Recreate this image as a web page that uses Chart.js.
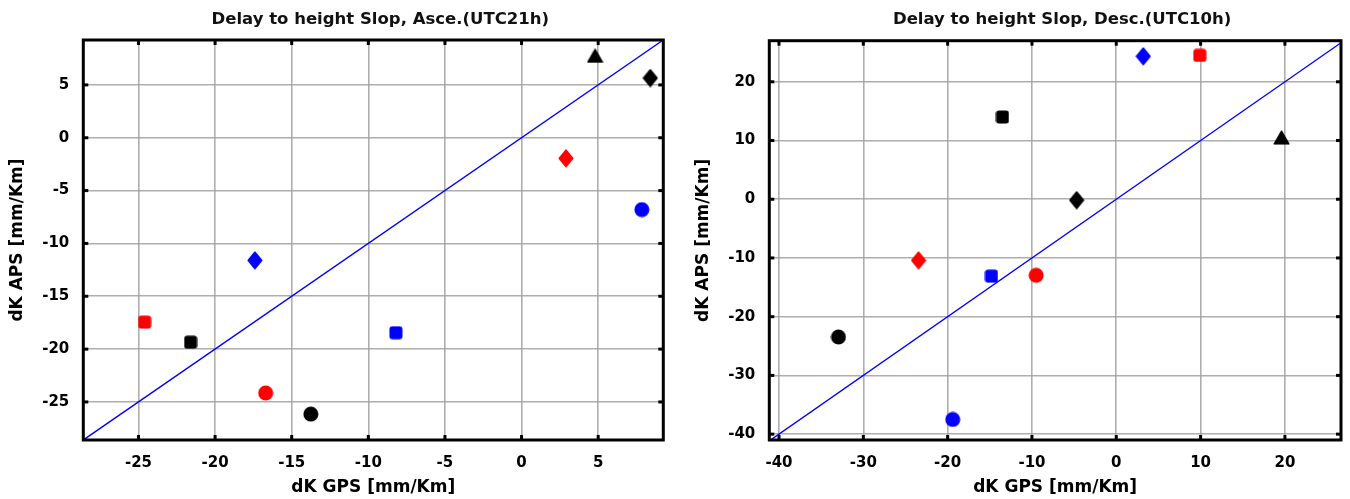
<!DOCTYPE html>
<html>
<head>
<meta charset="utf-8">
<script src="https://cdn.jsdelivr.net/npm/chart.js@4.4.1/dist/chart.umd.min.js"></script>
<style>
html, body { margin: 0; padding: 0; background: #fff; width: 1350px; height: 499px; overflow: hidden; }
#wrapA { position: absolute; left: 0; top: 0; width: 680px; height: 499px; }
#wrapD { position: absolute; left: 680px; top: 0; width: 670px; height: 499px; }
</style>
</head>
<body>
<div id="wrapA"><canvas id="cA"></canvas></div>
<div id="wrapD"><canvas id="cD"></canvas></div>
<script>
// ---------------- DATA ----------------
const markerKeys = ['redCircle', 'redSquare', 'redDiamond',
                    'blueCircle', 'blueSquare', 'blueDiamond',
                    'blackCircle', 'blackSquare', 'blackDiamond', 'blackTriangle'];

// Ascending (UTC21h): dK GPS (x) and dK APS (y), mm/Km
const ascGPS = [-16.7, -24.6, 2.9, 7.85, -8.2, -17.4, -13.75, -21.6, 8.4, 4.8];
const ascAPS = [-24.15, -17.45, -1.95, -6.8, -18.45, -11.6, -26.15, -19.35, 5.65, 7.75];

// Descending (UTC10h)
const descGPS = [-9.5, 9.9, -23.45, -19.4, -14.8, 3.2, -32.95, -13.5, -4.7, 19.6];
const descAPS = [-12.95, 24.5, -10.4, -37.5, -13.1, 24.35, -23.45, 14.0, -0.15, 10.5];

// 1:1 reference line end values
const refLine = [-60, 60];

// axis limits and tick steps
const ascXRange = [-28.6, 9.25];
const ascYRange = [-28.6, 9.25];
const ascStep = 5;
const descXRange = [-41.15, 26.65];
const descYRange = [-41.0, 27.0];
const descStep = 10;

const titles = ['Delay to height Slop, Asce.(UTC21h)', 'Delay to height Slop, Desc.(UTC10h)'];
const xTitle = 'dK GPS [mm/Km]';
const yTitle = 'dK APS [mm/Km]';

// ---------------- STYLES ----------------
const markerStyle = {
  redCircle:    { color: '#ff0000', shape: 'circle' },
  redSquare:    { color: '#ff0000', shape: 'square' },
  redDiamond:   { color: '#ff0000', shape: 'diamond' },
  blueCircle:   { color: '#0000ff', shape: 'circle' },
  blueSquare:   { color: '#0000ff', shape: 'square' },
  blueDiamond:  { color: '#0000ff', shape: 'diamond' },
  blackCircle:  { color: '#000000', shape: 'circle' },
  blackSquare:  { color: '#000000', shape: 'square' },
  blackDiamond: { color: '#000000', shape: 'diamond' },
  blackTriangle:{ color: '#000000', shape: 'triangle' }
};

function makeMarker(shape, color) {
  const c = document.createElement('canvas');
  let w, h;
  if (shape === 'circle') { w = 16; h = 16; }
  else if (shape === 'square') { w = 14; h = 14; }
  else if (shape === 'diamond') { w = 16; h = 19; }
  else { w = 17; h = 15; }
  c.width = w; c.height = h;
  const g = c.getContext('2d');
  g.fillStyle = color; g.strokeStyle = color; g.lineJoin = 'round'; g.lineWidth = 1.5;
  g.beginPath();
  if (shape === 'circle') {
    g.arc(8, 8, 7.5, 0, Math.PI * 2);
    g.fill();
  } else if (shape === 'square') {
    const r = 3.5;
    g.moveTo(r, 0.5); g.lineTo(w - r, 0.5); g.quadraticCurveTo(w - 0.5, 0.5, w - 0.5, r);
    g.lineTo(w - 0.5, h - r); g.quadraticCurveTo(w - 0.5, h - 0.5, w - r, h - 0.5);
    g.lineTo(r, h - 0.5); g.quadraticCurveTo(0.5, h - 0.5, 0.5, h - r);
    g.lineTo(0.5, r); g.quadraticCurveTo(0.5, 0.5, r, 0.5);
    g.closePath(); g.fill();
  } else if (shape === 'diamond') {
    g.moveTo(w / 2, 1.2); g.lineTo(w - 1.2, h / 2); g.lineTo(w / 2, h - 1.2); g.lineTo(1.2, h / 2);
    g.closePath(); g.fill(); g.stroke();
  } else {
    g.moveTo(w / 2, 1.2); g.lineTo(w - 1.2, h - 1.2); g.lineTo(1.2, h - 1.2);
    g.closePath(); g.fill(); g.stroke();
  }
  return c;
}

Chart.defaults.font.family = "'DejaVu Sans', sans-serif";
Chart.defaults.font.weight = 'bold';
Chart.defaults.color = '#000';

const framePlugin = {
  id: 'frame',
  afterLayout(chart, args, opts) {
    if (chart.titleBlock && opts.titleShift) {
      chart.titleBlock.left += opts.titleShift;
      chart.titleBlock.right += opts.titleShift;
    }
  },
  afterDatasetsDraw(chart) {
    const { ctx, chartArea: { left, top, right, bottom }, scales: { x, y } } = chart;
    ctx.save();
    ctx.fillStyle = '#000';
    const tl = 5, tw = 3;
    x.ticks.forEach(t => {
      const px = x.getPixelForValue(t.value);
      ctx.fillRect(px - tw / 2, top, tw, tl);
      ctx.fillRect(px - tw / 2, bottom - tl, tw, tl);
    });
    y.ticks.forEach(t => {
      const py = y.getPixelForValue(t.value);
      ctx.fillRect(left, py - tw / 2, tl, tw);
      ctx.fillRect(right - tl, py - tw / 2, tl, tw);
    });
    ctx.strokeStyle = '#000';
    ctx.lineWidth = 3;
    ctx.strokeRect(left, top, right - left, bottom - top);
    ctx.restore();
  }
};

function buildChart(canvasId, gps, aps, xRange, yRange, step, title, yAxisWidth, padRight, titlePadBottom, yTitlePad) {
  const datasets = markerKeys.map((k, i) => ({
    label: k,
    data: [{ x: gps[i], y: aps[i] }],
    pointStyle: makeMarker(markerStyle[k].shape, markerStyle[k].color),
    pointRadius: 8,
    pointHoverRadius: 8,
    showLine: false,
    order: 0
  }));
  datasets.push({
    label: '1:1',
    data: refLine.map(v => ({ x: v, y: v })),
    showLine: true,
    borderColor: '#0000ff',
    borderWidth: 1.4,
    pointRadius: 0,
    order: 5
  });
  const gridCfg = { color: 'rgba(160,160,160,0.85)', lineWidth: 1.6, drawTicks: false };
  return new Chart(document.getElementById(canvasId), {
    type: 'scatter',
    data: { datasets },
    options: {
      responsive: true,
      maintainAspectRatio: false,
      animation: false,
      events: [],
      layout: { padding: { left: 0, right: padRight, top: 0, bottom: 0 } },
      plugins: {
        legend: { display: false },
        tooltip: { enabled: false },
        title: {
          display: true, text: title, fullSize: false,
          font: { size: 16.5, weight: 'bold' }, color: '#111',
          padding: { top: 10, bottom: titlePadBottom }
        },
        frame: { titleShift: 7 }
      },
      scales: {
        x: {
          type: 'linear', min: xRange[0], max: xRange[1],
          border: { display: false },
          grid: gridCfg,
          ticks: { stepSize: step, includeBounds: false, padding: 14, font: { size: 15, weight: 'bold' }, maxRotation: 0 },
          title: { display: true, text: xTitle, font: { size: 17, weight: 'bold' }, padding: { top: 0, bottom: 1 } },
          afterFit(s) { s.height = 59; }
        },
        y: {
          type: 'linear', min: yRange[0], max: yRange[1],
          border: { display: false },
          grid: gridCfg,
          ticks: { stepSize: step, includeBounds: false, padding: 14, font: { size: 15, weight: 'bold' } },
          title: { display: true, text: yTitle, font: { size: 17, weight: 'bold' }, padding: { top: yTitlePad, bottom: 0 } },
          afterFit(s) { s.width = yAxisWidth; }
        }
      }
    },
    plugins: [framePlugin]
  });
}

buildChart('cA', ascGPS, ascAPS, ascXRange, ascYRange, ascStep, titles[0], 83.3, 16.7, 10.2, 7.8);
buildChart('cD', descGPS, descAPS, descXRange, descYRange, descStep, titles[1], 89.3, 2.7, 10.9, 13.5);
</script>
</body>
</html>
